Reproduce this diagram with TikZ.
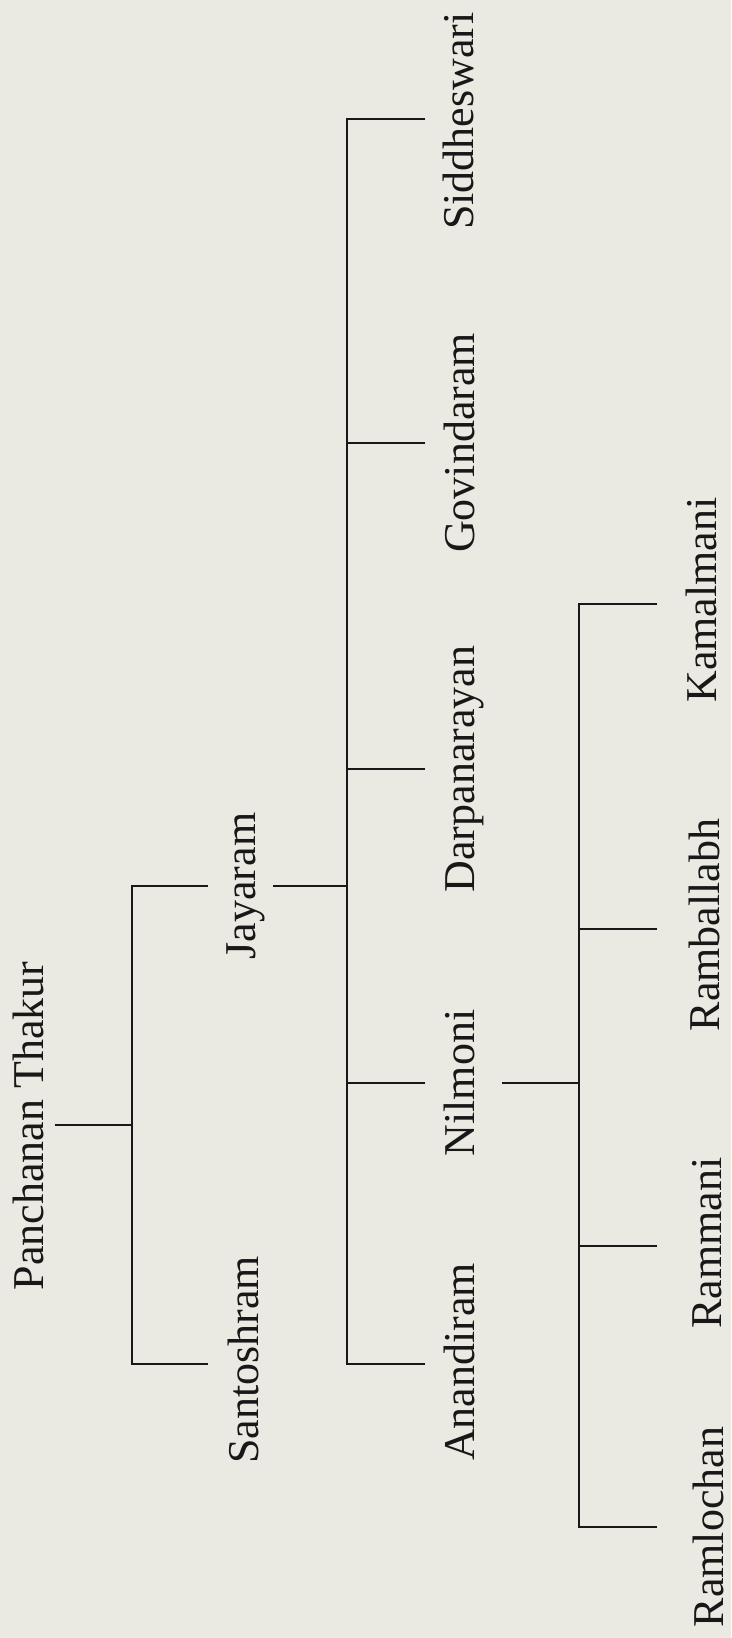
\documentclass[tikz,border=0pt]{standalone}
\usepackage{fontspec}
\setmainfont{Liberation Serif}
\definecolor{bg}{RGB}{234,233,226}
\definecolor{ink}{RGB}{24,24,24}
\begin{document}
\begin{tikzpicture}[x=1pt,y=-1pt,
  person/.style={rotate=90, anchor=base, inner sep=0pt, font=\fontsize{44}{52}\selectfont, text=ink},
  link/.style={draw=ink, line width=2.5pt, line join=miter}]
\fill[bg] (0,0) rectangle (731,1638);
\useasboundingbox (0,0) rectangle (731,1638);

% people
\node[person] (pt)   at (43,1126)  {Panchanan Thakur};
\node[person] (jay)  at (255,886)  {Jayaram};
\node[person] (san)  at (258,1360) {Santoshram};
\node[person] (sid)  at (473,121)  {Siddheswari};
\node[person] (gov)  at (474,443)  {Govindaram};
\node[person] (dar)  at (474,769)  {Darpanarayan};
\node[person] (nil)  at (474,1083) {Nilmoni};
\node[person] (ana)  at (474,1362) {Anandiram};
\node[person] (kam)  at (716,600)  {Kamalmani};
\node[person] (ramb) at (719,925)  {Ramballabh};
\node[person] (ramm) at (721,1243) {Rammani};
\node[person] (raml) at (723,1527) {Ramlochan};

% connector end points
\coordinate (ptS)  at (55,1125);
\coordinate (ptJ)  at (132,1125);
\coordinate (b1t)  at (132,886);
\coordinate (b1b)  at (132,1364);
\coordinate (jayI) at (208,886);
\coordinate (sanI) at (208,1364);
\coordinate (jayO) at (273,886);
\coordinate (b2j)  at (347,886);
\coordinate (b2t)  at (347,119);
\coordinate (b2g)  at (347,443);
\coordinate (b2d)  at (347,769);
\coordinate (b2n)  at (347,1083);
\coordinate (b2b)  at (347,1364);
\coordinate (sidI) at (425,119);
\coordinate (govI) at (425,443);
\coordinate (darI) at (425,769);
\coordinate (nilI) at (425,1083);
\coordinate (anaI) at (425,1364);
\coordinate (nilO) at (502,1083);
\coordinate (b3n)  at (579,1083);
\coordinate (b3t)  at (579,604);
\coordinate (b3r)  at (579,929);
\coordinate (b3m)  at (579,1246);
\coordinate (b3b)  at (579,1527);
\coordinate (kamI) at (657,604);
\coordinate (rambI) at (657,929);
\coordinate (rammI) at (657,1246);
\coordinate (ramlI) at (657,1527);

% generation 1
\draw[link] (ptS) -- (ptJ);
\draw[link] (jayI) -- (b1t) -- (b1b) -- (sanI);

% generation 2
\draw[link] (jayO) -- (b2j);
\draw[link] (sidI) -- (b2t) -- (b2b) -- (anaI);
\draw[link] (b2g) -- (govI);
\draw[link] (b2d) -- (darI);
\draw[link] (b2n) -- (nilI);

% generation 3
\draw[link] (nilO) -- (b3n);
\draw[link] (kamI) -- (b3t) -- (b3b) -- (ramlI);
\draw[link] (b3r) -- (rambI);
\draw[link] (b3m) -- (rammI);
\end{tikzpicture}
\end{document}
